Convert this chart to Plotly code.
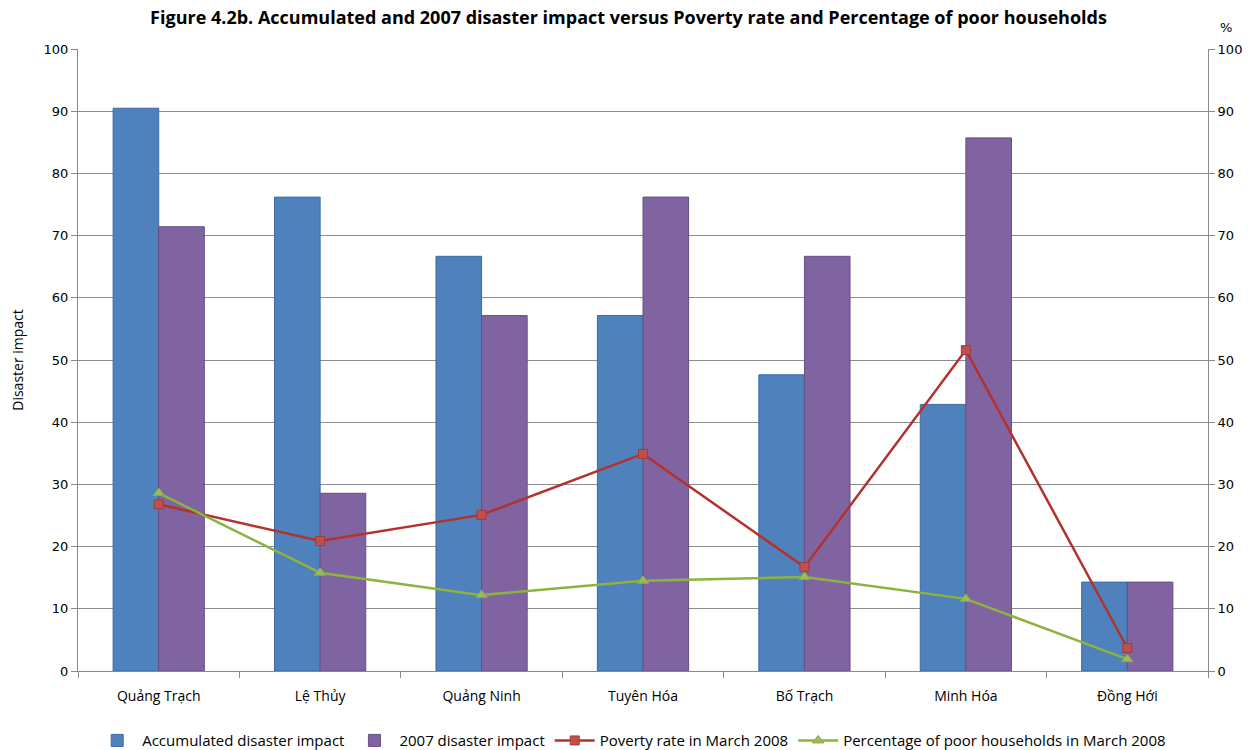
import plotly.graph_objects as go

districts = ["Quảng Trạch", "Lệ Thủy", "Quảng Ninh", "Tuyên Hóa", "Bố Trạch", "Minh Hóa", "Đồng Hới"]
accumulated_impact = [90.48, 76.19, 66.67, 57.14, 47.62, 42.86, 14.29]
impact_2007 = [71.43, 28.57, 57.14, 76.19, 66.67, 85.71, 14.29]
poverty_rate = [26.8, 20.9, 25.1, 34.9, 16.7, 51.6, 3.7]
poor_households = [28.6, 15.8, 12.2, 14.5, 15.1, 11.6, 1.9]
y_ticks = list(range(0, 101, 10))

LABEL_FONT = "Open Sans, sans-serif"
TICK_FONT = "DejaVu Sans, Verdana, sans-serif"

fig = go.Figure()
fig.add_trace(go.Bar(x=districts, y=accumulated_impact, name="Accumulated disaster impact",
                     marker=dict(color="#4F81BD", line=dict(color="#3A6AA5", width=1))))
fig.add_trace(go.Bar(x=districts, y=impact_2007, name="2007 disaster impact",
                     marker=dict(color="#8064A2", line=dict(color="#664E85", width=1))))
fig.add_trace(go.Scatter(x=districts, y=poverty_rate, name="Poverty rate in March 2008", yaxis="y2",
                         mode="lines+markers", line=dict(color="#B3322E", width=2.5),
                         marker=dict(symbol="square", size=9, color="#C0504D", line=dict(color="#A33B38", width=1))))
fig.add_trace(go.Scatter(x=districts, y=poor_households, name="Percentage of poor households in March 2008", yaxis="y2",
                         mode="lines+markers", line=dict(color="#8DB33F", width=2.5),
                         marker=dict(symbol="triangle-up", size=10, color="#9BBB59", line=dict(color="#8AA84E", width=1))))

fig.update_layout(
    width=1257, height=750,
    margin=dict(l=78, r=49, t=49, b=79, autoexpand=False),
    paper_bgcolor="white", plot_bgcolor="white",
    barmode="group", bargap=0.435, bargroupgap=0.0,
    title=dict(text="<b>Figure 4.2b. Accumulated and 2007 disaster impact versus Poverty rate and Percentage of poor households</b>",
               x=0.5, xanchor="center", y=0.977, yanchor="middle",
               font=dict(family=LABEL_FONT, size=18, color="black")),
    xaxis=dict(showline=True, linecolor="#898989", linewidth=1, ticks="outside", tickson="boundaries",
               ticklen=6, tickcolor="#898989", tickfont=dict(family=LABEL_FONT, size=14, color="black"),
               showgrid=False, automargin=False, ticklabelstandoff=12),
    yaxis=dict(range=[0, 100], tickvals=y_ticks, showline=True, linecolor="#898989", linewidth=1,
               ticks="outside", ticklen=6, tickcolor="#898989", showgrid=True, gridcolor="#8C8C8C", gridwidth=1,
               tickfont=dict(family=TICK_FONT, size=13, color="black"), automargin=False,
               title=dict(text="Disaster impact", font=dict(family=LABEL_FONT, size=14, color="black"), standoff=16),
               zeroline=False),
    yaxis2=dict(range=[0, 100], tickvals=y_ticks, overlaying="y", side="right", showline=True,
                linecolor="#898989", linewidth=1, ticks="outside", ticklen=6, tickcolor="#898989",
                showgrid=False, zeroline=False, automargin=False,
                tickfont=dict(family=TICK_FONT, size=13, color="black")),
    legend=dict(orientation="h", x=0.49, xanchor="center", y=-0.112, yanchor="middle",
                font=dict(family=LABEL_FONT, size=15, color="black"), traceorder="normal",
                itemwidth=40),
    showlegend=True,
)
fig.add_annotation(text="%", xref="paper", yref="paper", x=1.016, y=1.035, showarrow=False,
                   xanchor="center", yanchor="middle", font=dict(family=TICK_FONT, size=13, color="black"))

fig.write_html("out.html")
